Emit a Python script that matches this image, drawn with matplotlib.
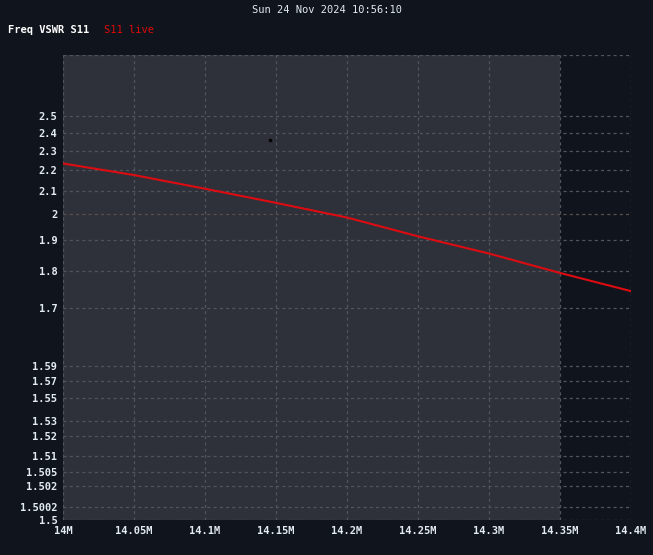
import numpy as np
import matplotlib.pyplot as plt

# S11 VSWR sweep
freq = [14.0, 14.05, 14.1, 14.15, 14.2, 14.25, 14.3, 14.35, 14.4]  # MHz
vswr = [2.233, 2.175, 2.11, 2.047, 1.986, 1.914, 1.854, 1.793, 1.742]
marker_f = [14.1458]
marker_v = [2.359]

yticks = [1.5, 1.5002, 1.502, 1.505, 1.51, 1.52, 1.53, 1.55, 1.57, 1.59,
          1.7, 1.8, 1.9, 2, 2.1, 2.2, 2.3, 2.4, 2.5]
ylabels = ['1.5', '1.5002', '1.502', '1.505', '1.51', '1.52', '1.53', '1.55',
           '1.57', '1.59', '1.7', '1.8', '1.9', '2', '2.1', '2.2', '2.3', '2.4', '2.5']
xticks = [14.0, 14.05, 14.1, 14.15, 14.2, 14.25, 14.3, 14.35, 14.4]
xlabels = ['14M', '14.05M', '14.1M', '14.15M', '14.2M', '14.25M', '14.3M', '14.35M', '14.4M']
span_end = 14.35

bg = '#10141c'
shade = '#2e3139'
gridc = '#50545b'
txt = '#e2eaf4'
mono = 'DejaVu Sans Mono'

# the display squashes the axis as (vswr - 1.5)^0.4
def fwd(v):
    return np.power(np.clip(np.asarray(v, float) - 1.5, 0, None), 0.4)

def inv(u):
    return 1.5 + np.power(np.clip(np.asarray(u, float), 0, None), 2.5)

fig = plt.figure(figsize=(6.53, 5.55), dpi=100, facecolor=bg)
ax = fig.add_axes([63/653, 1 - 520/555, (631-63)/653, (520-55)/555])
ax.set_facecolor(bg)
ax.set_yscale('function', functions=(fwd, inv))
ax.set_xlim(14.0, 14.4)
ax.set_ylim(1.5, 2.924)

ax.axvspan(14.0, span_end, color=shade, zorder=0, lw=0)

gkw = dict(color=gridc, lw=0.9, ls=(0, (2.5, 2.5)), zorder=1)
for t in xticks:
    ax.axvline(t, **gkw)
for t in yticks:
    if t == 2:
        ax.axhline(t, color='#5a4f50', lw=0.9, ls=(0, (2.5, 2.5)), zorder=1)
    else:
        ax.axhline(t, **gkw)
ax.axhline(2.924, **gkw)

ax.plot(freq, vswr, color='#dc0c12', lw=1.5, zorder=3)
ax.plot(marker_f, marker_v, 's', color='#050505', ms=1.6, zorder=4)

ax.set_xticks(xticks)
ax.set_xticklabels(xlabels)
ax.set_yticks(yticks)
ax.set_yticklabels(ylabels)
ax.minorticks_off()
ax.tick_params(length=0, colors=txt, labelsize=7.5, pad=4)
for lab in ax.get_xticklabels() + ax.get_yticklabels():
    lab.set_family(mono)
    lab.set_fontweight('semibold')
for s in ax.spines.values():
    s.set_visible(False)

fig.text(0.5, 1 - 10/555, 'Sun 24 Nov 2024 10:56:10', ha='center', va='center',
         color=txt, fontsize=7.5, family=mono)
fig.text(8/653, 1 - 30/555, 'Freq VSWR S11', ha='left', va='center',
         color='#ffffff', fontsize=7.5, family=mono, fontweight='bold')
fig.text(104/653, 1 - 30/555, 'S11 live', ha='left', va='center',
         color='#e00a0a', fontsize=7.5, family=mono)

plt.savefig('out.png', dpi=100, facecolor=bg)
